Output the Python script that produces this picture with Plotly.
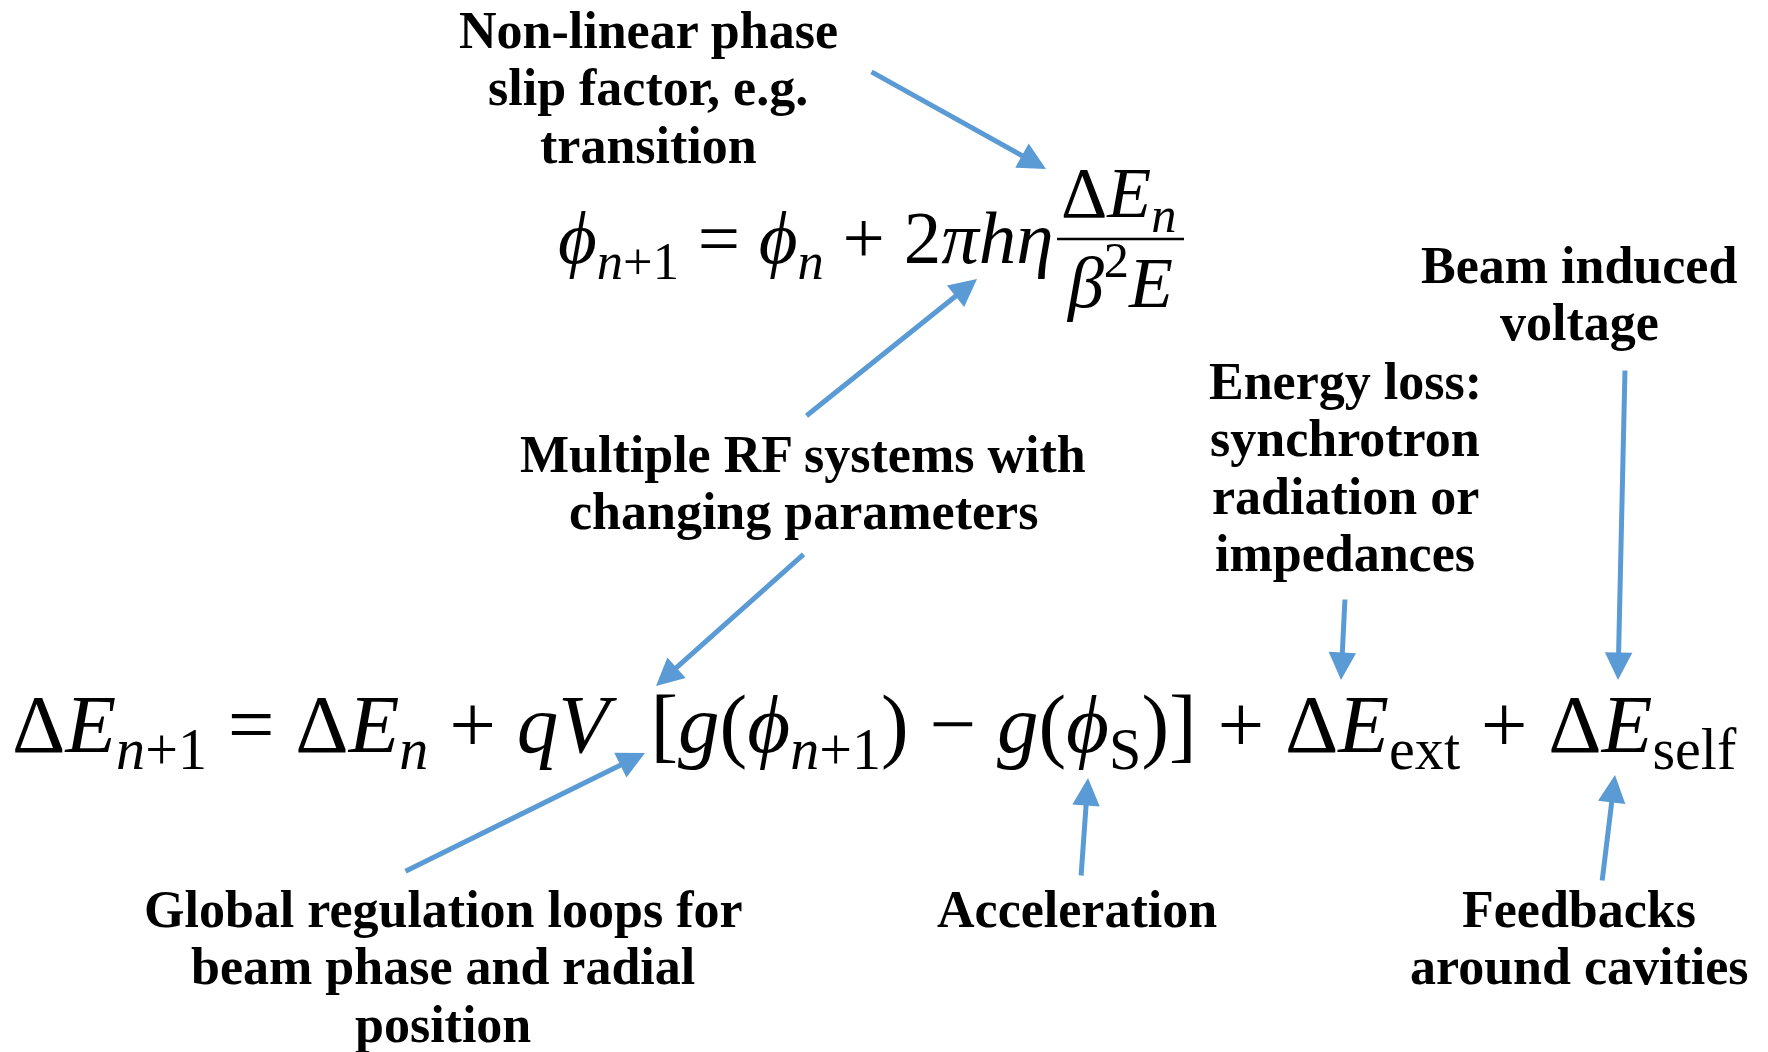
import plotly.graph_objects as go

W, H = 1768, 1052
ARROW_COLOR = "#5b9bd5"
LABEL_FONT = "Liberation Serif"
MATH_FONT = "Liberation Serif"

# Label texts (one list of lines per label)
label_lines = [
    ["Non-linear phase", "slip factor, e.g.", "transition"],
    ["Multiple RF systems with", "changing parameters"],
    ["Global regulation loops for", "beam phase and radial", "position"],
    ["Acceleration"],
    ["Energy loss:", "synchrotron", "radiation or", "impedances"],
    ["Beam induced", "voltage"],
    ["Feedbacks", "around cavities"],
]
label_x = [648, 803, 443, 1077, 1345, 1579, 1579]
label_y0 = [30, 454, 909, 909, 381, 265, 909]
LINE_STEP = 57.5

# Arrows: tail (x0,y0) -> head (x1,y1)
arrow_x0 = [870, 805, 805, 404, 1081, 1345, 1625, 1602]
arrow_y0 = [71, 417, 553, 872, 877, 598, 369, 882]
arrow_x1 = [1046, 977, 656, 645, 1088, 1341, 1618, 1615]
arrow_y1 = [169, 279, 686, 753, 778, 680, 680, 775]

# Equations
phase_lhs = "<i>ϕ</i><sub><i>n</i>+1</sub> = <i>ϕ</i><sub><i>n</i></sub> + 2<i>πhη</i>"
phase_num = "Δ<i>E</i><sub><i>n</i></sub>"
phase_den = "<i>β</i><sup>2</sup><i>E</i>"
energy_eq = ("Δ<i>E</i><sub><i>n</i>+1</sub> = Δ<i>E</i><sub><i>n</i></sub> + <i>qV</i>  "
             "[<i>g</i>(<i>ϕ</i><sub><i>n</i>+1</sub>) − <i>g</i>(<i>ϕ</i><sub>S</sub>)] + "
             "Δ<i>E</i><sub>ext</sub> + Δ<i>E</i><sub>self</sub>")

fig = go.Figure()
fig.add_trace(go.Scatter(x=[0, W], y=[0, H], mode="markers",
                         marker=dict(opacity=0), hoverinfo="skip", showlegend=False))

annotations = []
for lines, x, y0 in zip(label_lines, label_x, label_y0):
    for i, line in enumerate(lines):
        annotations.append(dict(x=x, y=y0 + i * LINE_STEP, xref="x", yref="y",
                                text="<b>" + line + "</b>",
                                showarrow=False, xanchor="center", yanchor="middle",
                                font=dict(family=LABEL_FONT, size=52, color="black")))

for x0, y0, x1, y1 in zip(arrow_x0, arrow_y0, arrow_x1, arrow_y1):
    annotations.append(dict(x=x1, y=y1, ax=x0, ay=y0, xref="x", yref="y",
                            axref="x", ayref="y", text="", showarrow=True,
                            arrowhead=2, arrowsize=1.1, arrowwidth=5,
                            arrowcolor=ARROW_COLOR, standoff=0, startstandoff=0))

annotations.append(dict(x=556, y=243, xref="x", yref="y", text=phase_lhs,
                        showarrow=False, xanchor="left", yanchor="middle",
                        font=dict(family=MATH_FONT, size=75, color="black")))
annotations.append(dict(x=1119, y=198, xref="x", yref="y", text=phase_num,
                        showarrow=False, xanchor="center", yanchor="middle",
                        font=dict(family=MATH_FONT, size=72, color="black")))
annotations.append(dict(x=1119, y=277, xref="x", yref="y", text=phase_den,
                        showarrow=False, xanchor="center", yanchor="middle",
                        font=dict(family=MATH_FONT, size=72, color="black")))
annotations.append(dict(x=10, y=730, xref="x", yref="y", text=energy_eq,
                        showarrow=False, xanchor="left", yanchor="middle",
                        font=dict(family=MATH_FONT, size=83, color="black")))

fig.add_shape(type="line", x0=1057, x1=1184, y0=239, y1=239, xref="x", yref="y",
              line=dict(color="black", width=2.5))

fig.update_layout(
    width=W, height=H, margin=dict(l=0, r=0, t=0, b=0),
    paper_bgcolor="white", plot_bgcolor="white",
    xaxis=dict(range=[0, W], visible=False, fixedrange=True),
    yaxis=dict(range=[H, 0], visible=False, fixedrange=True),
    annotations=annotations, showlegend=False,
)
fig.write_html("out.html", config={"displayModeBar": False},
               post_script="document.body.style.margin='0';document.body.style.overflow='hidden';")
